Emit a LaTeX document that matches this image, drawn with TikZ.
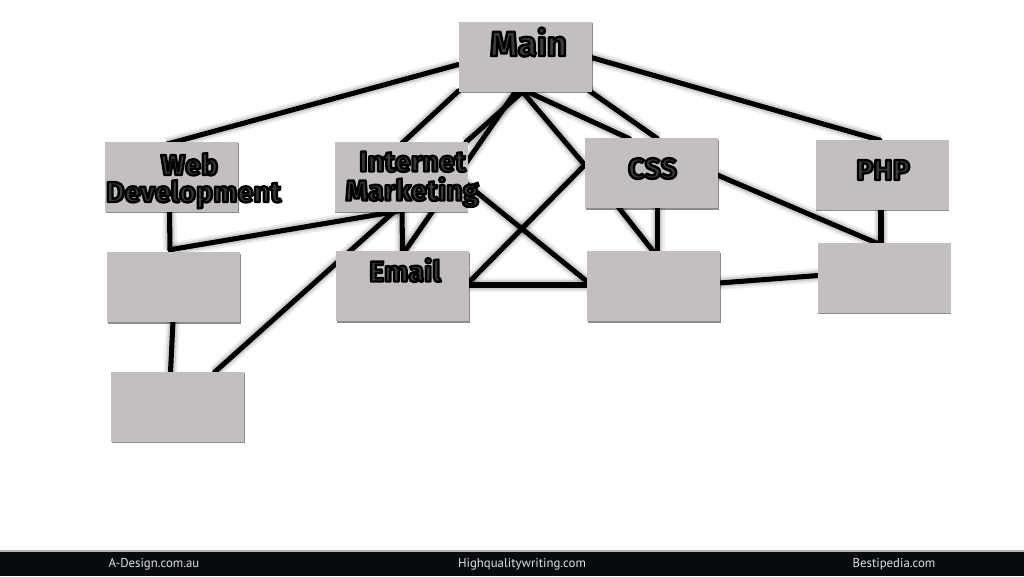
\documentclass[tikz,border=0pt]{standalone}
\usepackage{fontspec}
\setmainfont{Liberation Sans}
\newfontfamily\lblfont{Fira Sans}
\newfontfamily\barfont{PT Sans}
\usetikzlibrary{shadows,calc,backgrounds}
\definecolor{boxgray}{HTML}{C3BFBE}
\definecolor{txtgray}{HTML}{3A3A3A}
\definecolor{barblack}{HTML}{070B0D}
\newcommand{\outl}[1]{\special{pdf:literal direct 2 Tr 1.8 w 0 G 1 j}#1\special{pdf:literal direct 0 Tr}}
\begin{document}
\begin{tikzpicture}[x=0.75pt,y=-0.75pt,
  box/.style={draw=none, fill=boxgray, minimum width=99.75pt, minimum height=52.5pt, inner sep=0pt,
    drop shadow={shadow xshift=0.6pt, shadow yshift=-1.2pt, fill=black, opacity=0.45}},
  lbl/.style={font=\lblfont\bfseries\fontsize{21.6}{22}\selectfont, text=txtgray, inner sep=0pt, anchor=base},
  bigl/.style={lbl, font=\lblfont\bfseries\fontsize{26.3}{27}\selectfont},
  conn/.style={draw=black, line width=3.8pt, line cap=round,
    preaction={draw=black, line width=10.5pt, opacity=0.07},
    preaction={draw=black, line width=7pt, opacity=0.12}},
  bartxt/.style={font=\barfont\fontsize{9.6}{10}\selectfont, text=white!88!black, inner sep=0pt}]
\useasboundingbox (0,0) rectangle (1024,576);

% boxes
\node[box] (main) at (525.5,56.5) {};
\node[box] (wd) at (171.5,176.5) {};
\node[box] (im) at (401,176.5) {};
\node[box] (css) at (651.5,173) {};
\node[box] (php) at (882,174.5) {};
\node[box] (wdc) at (173.5,287) {};
\node[box] (email) at (402.5,286) {};
\node[box] (cssc) at (653.5,286) {};
\node[box] (phpc) at (884,277.5) {};
\node[box] (bl) at (177.5,406.5) {};

% labels
\node[bigl] (tmain) at (528.5,56) {\outl{Main}};
\node[lbl] (tweb) at (189.5,175) {\outl{Web}};
\node[lbl] (tdev) at (193.5,202) {\outl{Development}};
\node[lbl] (tint) at (412.5,171.5) {\outl{Internet}};
\node[lbl] (tmkt) at (412,200.5) {\outl{Marketing}};
\node[lbl] (temail) at (405,281.5) {\outl{Email}};
\node[lbl] (tcss) at (652.5,178.5) {\outl{CSS}};
\node[lbl] (tphp) at (883,180) {\outl{PHP}};

% connectors
\begin{scope}[on background layer]
\fill[white] (0,0) rectangle (1024,576);
\draw[conn] ($(main.west)+(0,8)$) -- ($(wd.north)+(-5,3)$);
\draw[conn] ($(main.south west)+(0,-1)$) -- ($(im.north)+(1,2)$);
\draw[conn] ($(main.south)+(-3,0)$) -- ($(im.north east)+(-2,1)$);
\draw[conn] ($(main.south)+(-10,0)$) -- ($(email.north)+(2,1)$);
\draw[conn] ($(main.south)+(-3,0)$) -- ($(css.west)+(0,-8)$);
\draw[conn] ($(main.south)+(2,0)$) -- ($(css.north)+(-22,1)$);
\draw[conn] ($(main.south east)+(-3,-1)$) -- ($(css.north)+(6,1)$);
\draw[conn] ($(main.east)+(-1,1)$) -- ($(php.north)+(-2,1)$);
\draw[conn] ($(css.east)+(-1,2)$) -- ($(phpc.north)+(-7,1)$);
\draw[conn] ($(php.south)+(-1,-1)$) -- ($(phpc.north)+(-3,1)$);
\draw[conn] ($(cssc.east)+(-1,-3)$) -- ($(phpc.west)+(1,-2)$);
\draw[conn] ($(css.south)+(-33,-1)$) -- ($(cssc.north)+(0,1)$);
\draw[conn] ($(css.south)+(6,-1)$) -- ($(cssc.north)+(4,1)$);
\draw[conn] ($(email.east)+(-1,-1)$) -- ($(cssc.west)+(1,-1)$);
\draw[conn] ($(email.east)+(-1,-3)$) -- ($(css.west)+(0,-8)$);
\draw[conn] ($(im.center)+(39,-14)$) -- ($(cssc.west)+(1,-4)$);
\draw[conn] ($(wd.south)+(-2,-1)$) -- ($(wdc.north)+(-3.5,-2)$);
\draw[conn] ($(wdc.north)+(-3.5,-2)$) -- ($(im.south)+(-1,-1)$);
\draw[conn] ($(wdc.south)+(-0.5,-1)$) -- ($(bl.north)+(-7,1)$);
\draw[conn] ($(bl.north)+(37,1)$) -- ($(im.south)+(-6,-1)$);
\draw[conn] ($(im.south)+(1,-1)$) -- ($(email.north)+(0,1)$);
\end{scope}

% bottom bar
\fill[barblack] (0,551) rectangle (1024,576);
\draw[gray!60, line width=0.8pt] (0,551) -- (1024,551);
\node[bartxt] (f1) at (154,564.5) {A-Design.com.au};
\node[bartxt] (f2) at (522,564.5) {Highqualitywriting.com};
\node[bartxt] (f3) at (894,564.5) {Bestipedia.com};
\end{tikzpicture}
\end{document}
